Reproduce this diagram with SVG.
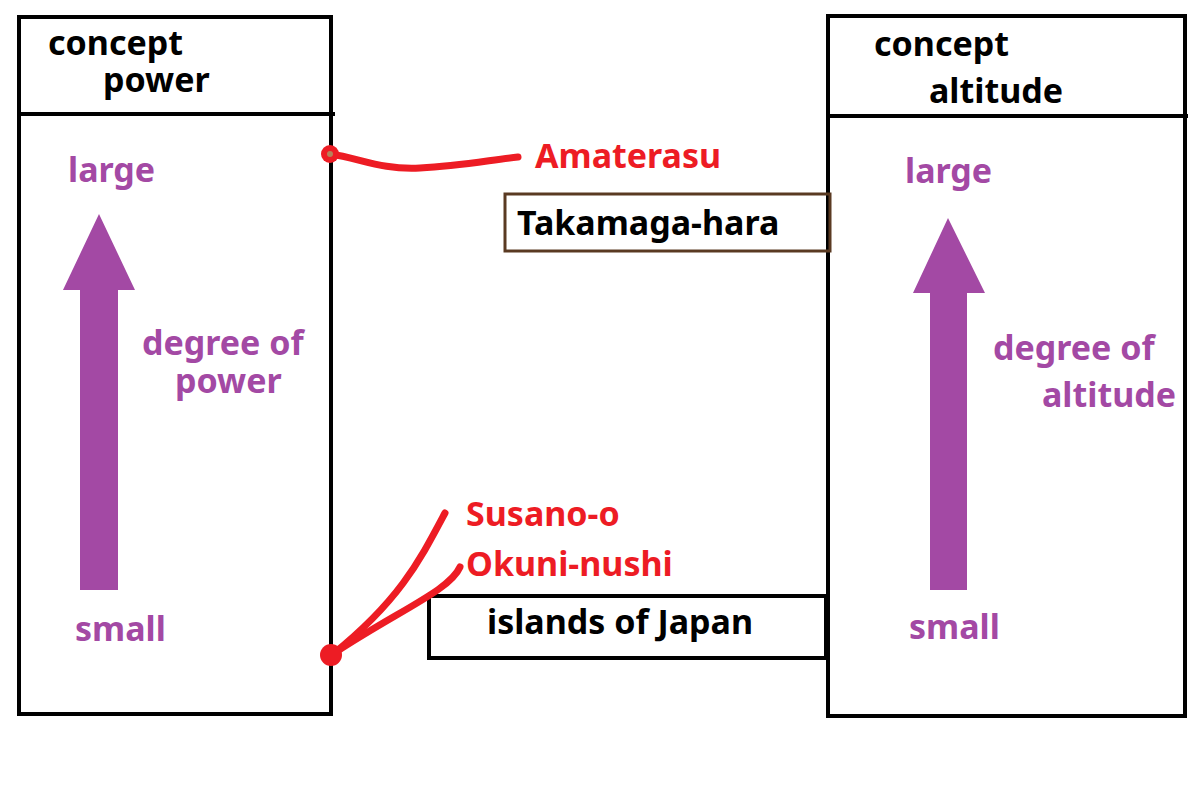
<svg xmlns="http://www.w3.org/2000/svg" width="1200" height="786" viewBox="0 0 1200 786">
<style>
.box{fill:none;stroke:#000;stroke-width:4}
.t{font-family:"Noto Sans","DejaVu Sans",sans-serif;font-weight:bold;font-size:34px}
.k{fill:#000}
.p{fill:#a349a4}
.r{fill:#ed1c24}
.arw{fill:#a349a4}
.red{fill:none;stroke:#ed1c24;stroke-width:7;stroke-linecap:round}
</style>
<rect width="1200" height="786" fill="#fff"/>
<g id="power">
<rect class="box" x="19" y="17" width="312" height="697"/>
<line class="box" x1="19" y1="114" x2="335" y2="114"/>
<text class="t k" x="48" y="55">concept</text>
<text class="t k" x="103" y="92">power</text>
<text class="t p" x="68" y="182">large</text>
<path class="arw" d="M99,214 L135,290 L118,290 L118,590 L80,590 L80,290 L63,290 Z"/>
<text class="t p" x="142" y="355">degree of</text>
<text class="t p" x="175" y="393">power</text>
<text class="t p" x="75" y="641">small</text>
</g>
<g id="altitude">
<rect class="box" x="828" y="16" width="357" height="700"/>
<line class="box" x1="828" y1="116" x2="1188" y2="116"/>
<text class="t k" x="874" y="56">concept</text>
<text class="t k" x="929" y="103">altitude</text>
<text class="t p" x="905" y="183">large</text>
<path class="arw" d="M948,218 L985,293 L967,293 L967,590 L930,590 L930,293 L913,293 Z"/>
<text class="t p" x="993" y="360">degree of</text>
<text class="t p" x="1042" y="407">altitude</text>
<text class="t p" x="909" y="639">small</text>
</g>
<g id="takamagahara">
<rect x="505" y="194" width="325" height="57" fill="none" stroke="#5a3a22" stroke-width="3"/>
<text class="t k" x="517" y="235">Takamaga-hara</text>
</g>
<g id="islands">
<rect class="box" x="429" y="596" width="397" height="62"/>
<text class="t k" x="487" y="634">islands of Japan</text>
</g>
<g id="amaterasu"><text class="t r" x="535" y="168">Amaterasu</text></g>
<g id="susanoo"><text class="t r" x="466" y="526">Susano-o</text></g>
<g id="okuninushi"><text class="t r" x="466" y="576">Okuni-nushi</text></g>
<g id="connectors">
<path class="red" d="M330,154 C360,158 380,170 420,168 C460,166 490,160 518,157"/>
<circle cx="330" cy="154" r="9" fill="#ed1c24"/>
<circle cx="330" cy="154" r="3" fill="#b5835a"/>
<path class="red" d="M445,513 C420,560 400,600 333,654"/>
<path class="red" d="M460,567 C450,590 400,610 336,652"/>
<circle cx="331" cy="655" r="11" fill="#ed1c24"/>
</g>
</svg>
